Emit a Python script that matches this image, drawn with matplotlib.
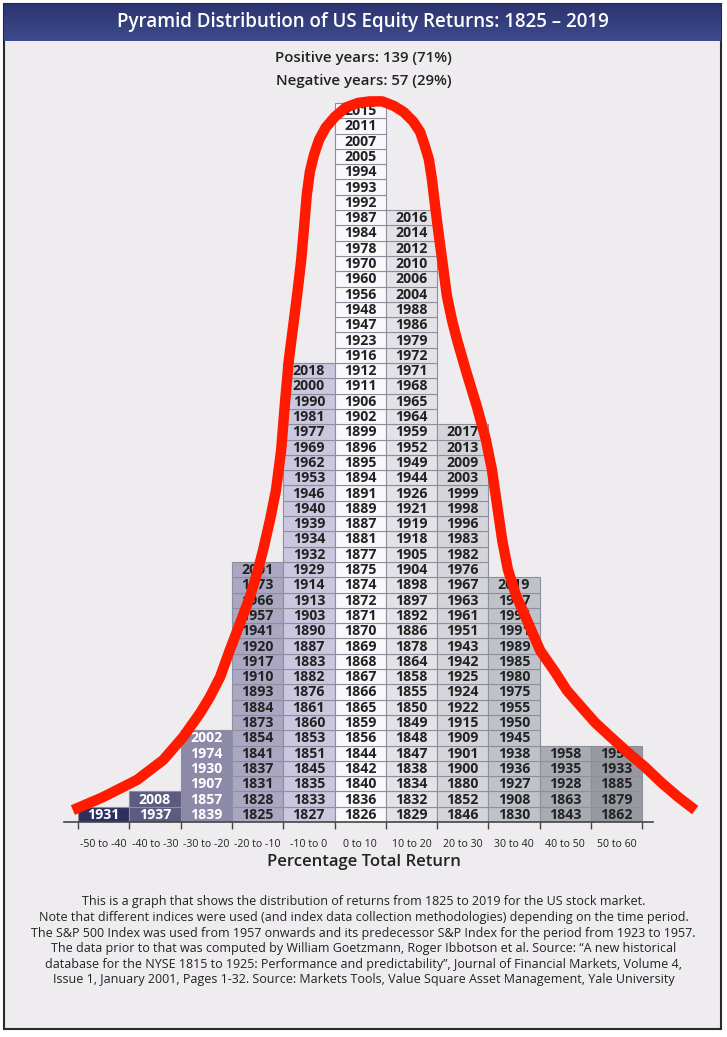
import numpy as np
import matplotlib
matplotlib.use('Agg')
import matplotlib.pyplot as plt
from matplotlib.patches import Rectangle

# years in each return bucket, listed bottom to top
bins = ['-50 to -40', '-40 to -30', '-30 to -20', '-20 to -10', '-10 to 0',
        '0 to 10', '10 to 20', '20 to 30', '30 to 40', '40 to 50', '50 to 60']
bin_left = [-50, -40, -30, -20, -10, 0, 10, 20, 30, 40, 50]

col_m50 = [1931]
col_m40 = [1937, 2008]
col_m30 = [1839, 1857, 1907, 1930, 1974, 2002]
col_m20 = [1825, 1828, 1831, 1837, 1841, 1854, 1873, 1884, 1893, 1910, 1917,
           1920, 1941, 1957, 1966, 1973, 2001]
col_m10 = [1827, 1833, 1835, 1845, 1851, 1853, 1860, 1861, 1876, 1882, 1883,
           1887, 1890, 1903, 1913, 1914, 1929, 1932, 1934, 1939, 1940, 1946,
           1953, 1962, 1969, 1977, 1981, 1990, 2000, 2018]
col_p0 = [1826, 1836, 1840, 1842, 1844, 1856, 1859, 1865, 1866, 1867, 1868,
          1869, 1870, 1871, 1872, 1874, 1875, 1877, 1881, 1887, 1889, 1891,
          1894, 1895, 1896, 1899, 1902, 1906, 1911, 1912, 1916, 1923, 1947,
          1948, 1956, 1960, 1970, 1978, 1984, 1987, 1992, 1993, 1994, 2005,
          2007, 2011, 2015]
col_p10 = [1829, 1832, 1834, 1838, 1847, 1848, 1849, 1850, 1855, 1858, 1864,
           1878, 1886, 1892, 1897, 1898, 1904, 1905, 1918, 1919, 1921, 1926,
           1944, 1949, 1952, 1959, 1964, 1965, 1968, 1971, 1972, 1979, 1986,
           1988, 2004, 2006, 2010, 2012, 2014, 2016]
col_p20 = [1846, 1852, 1880, 1900, 1901, 1909, 1915, 1922, 1924, 1925, 1942,
           1943, 1951, 1961, 1963, 1967, 1976, 1982, 1983, 1996, 1998, 1999,
           2003, 2009, 2013, 2017]
col_p30 = [1830, 1908, 1927, 1936, 1938, 1945, 1950, 1955, 1975, 1980, 1985,
           1989, 1991, 1995, 1997, 2019]
col_p40 = [1843, 1863, 1928, 1935, 1958]
col_p50 = [1862, 1879, 1885, 1933, 1954]

columns = [col_m50, col_m40, col_m30, col_m20, col_m10, col_p0,
           col_p10, col_p20, col_p30, col_p40, col_p50]

# hand-drawn red bell curve (return %, height in rows)
curve_x = [-51.0, -45.1, -38.5, -33.4, -29.5, -26.2, -24.3, -22.3, -20.4, -18.4,
           -16.5, -14.9, -13.9, -12.6, -11.4, -10.4, -9.6, -8.9, -8.1, -7.3,
           -6.5, -5.9, -5.4, -4.8, -4.0, -3.0, -1.7, 0.1, 2.2, 4.6,
           6.9, 9.3, 11.6, 13.5, 15.3, 16.7, 17.6, 18.4, 19.0, 19.6,
           20.2, 21.0, 21.9, 22.9, 23.9, 25.8, 27.8, 29.5, 30.7, 31.7,
           32.7, 33.8, 35.4, 37.5, 40.1, 43.0, 45.3, 47.9, 50.8, 53.7,
           57.0, 60.5, 63.8, 67.0, 70.3]
curve_y = [0.78, 1.63, 2.75, 4.05, 5.56, 7.12, 8.17, 9.48, 11.24, 13.0,
           14.7, 16.5, 17.8, 19.7, 21.7, 24.3, 27.6, 30.2, 32.3, 34.4,
           36.7, 39.0, 41.0, 42.5, 43.6, 44.6, 45.4, 46.1, 46.7, 47.0,
           47.1, 47.1, 46.8, 46.4, 45.8, 45.1, 44.2, 43.3, 42.0, 40.3,
           38.7, 36.7, 34.4, 32.8, 31.5, 29.3, 27.1, 25.0, 23.0, 20.7,
           18.4, 16.5, 14.8, 13.2, 11.2, 9.8, 8.6, 7.6, 6.5, 5.6,
           4.6, 3.6, 2.55, 1.63, 0.78]

fills = ['#2d3160', '#5c5b80', '#8c89a9', '#aaa7c3', '#cac7df', '#f9f9fc',
         '#e2e2e7', '#d3d5da', '#bfc2c8', '#a8abb1', '#969aa0']
txt_cols = ['white', 'white', 'white'] + ['#222222'] * 8

plt.rcParams['font.family'] = ['Open Sans', 'DejaVu Sans']

W, H = 727, 1037
fig = plt.figure(figsize=(W / 100, H / 100), dpi=100, facecolor='white')

def px(x, y, w, h):
    return [x / W, 1 - (y + h) / H, w / W, h / H]

# panel background + frame (behind everything)
fig.patches.append(Rectangle((4 / W, 1 - 1029 / H), 717 / W, 1025 / H,
                             transform=fig.transFigure, facecolor='#efecf0',
                             edgecolor='#2a2a2a', lw=1.5, zorder=-10))
# title banner with a slight gradient
bax = fig.add_axes(px(4, 4, 717, 37))
grad = np.linspace(0, 1, 50).reshape(-1, 1)
bax.imshow(grad, aspect='auto', cmap=matplotlib.colors.LinearSegmentedColormap.from_list(
    'b', ['#2c3570', '#3e4a8c']), extent=[0, 1, 0, 1])
bax.axis('off')
bax.text(0.5, 0.5, 'Pyramid Distribution of US Equity Returns: 1825 \u2013 2019',
         color='white', fontsize=13.5, fontweight='semibold', ha='center', va='center',
         transform=bax.transAxes)

fig.text(0.5, 1 - 58 / H, 'Positive years: 139 (71%)', ha='center', va='center',
         fontsize=10.8, fontweight='semibold', color='#222222')
fig.text(0.5, 1 - 81 / H, 'Negative years: 57 (29%)', ha='center', va='center',
         fontsize=10.8, fontweight='semibold', color='#222222')

# main axes: x in return %, y in rows (1 row = 1 year)
x_lo = -50 - 18 / 5.13
x_hi = -50 + 622 / 5.13
ax = fig.add_axes(px(60, 57, 640, 765))
ax.set_xlim(x_lo, x_hi)
ax.set_ylim(0, 50)
ax.patch.set_alpha(0)

for i, years in enumerate(columns):
    n = len(years)
    ax.bar([bin_left[i] + 5] * n, [1] * n, width=10, bottom=np.arange(n),
           color=fills[i], edgecolor='#8e8e9c', linewidth=0.8, zorder=1)
    for j, yr in enumerate(years):
        ax.text(bin_left[i] + 5, j + 0.47, str(yr), ha='center', va='center',
                fontsize=10.2, fontweight='bold', color=txt_cols[i], zorder=2)

ax.plot(curve_x, curve_y, color='#ff1a00', lw=7.5, solid_capstyle='butt',
        solid_joinstyle='round', zorder=3)

for s in ['top', 'right', 'left']:
    ax.spines[s].set_visible(False)
ax.spines['bottom'].set_bounds(-52.7, 62.1)
ax.spines['bottom'].set_color('#444444')
ax.spines['bottom'].set_linewidth(1.2)
ax.set_yticks([])
ax.set_xticks(bin_left + [60])
ax.set_xticklabels([])
ax.tick_params(axis='x', which='major', length=5, color='#444444', width=1)
ax.set_xticks([b + 5 for b in bin_left], minor=True)
ax.set_xticklabels(bins, minor=True)
ax.tick_params(axis='x', which='minor', length=0, pad=12, labelsize=7.6,
               labelcolor='#222222')

fig.text(0.5, 1 - 862 / H, 'Percentage Total Return', ha='center', va='center',
         fontsize=12, fontweight='semibold', color='#222222')

notes = [
    'This is a graph that shows the distribution of returns from 1825 to 2019 for the US stock market.',
    'Note that different indices were used (and index data collection methodologies) depending on the time period.',
    'The S&P 500 Index was used from 1957 onwards and its predecessor S&P Index for the period from 1923 to 1957.',
    'The data prior to that was computed by William Goetzmann, Roger Ibbotson et al. Source: \u201cA new historical',
    'database for the NYSE 1815 to 1925: Performance and predictability\u201d, Journal of Financial Markets, Volume 4,',
    'Issue 1, January 2001, Pages 1-32. Source: Markets Tools, Value Square Asset Management, Yale University',
]
for k, line in enumerate(notes):
    fig.text(0.5, 1 - (902 + 15.6 * k) / H, line, ha='center', va='center',
             fontsize=9.0, color='#222222')

fig.savefig('out.png', dpi=100, facecolor='white')
